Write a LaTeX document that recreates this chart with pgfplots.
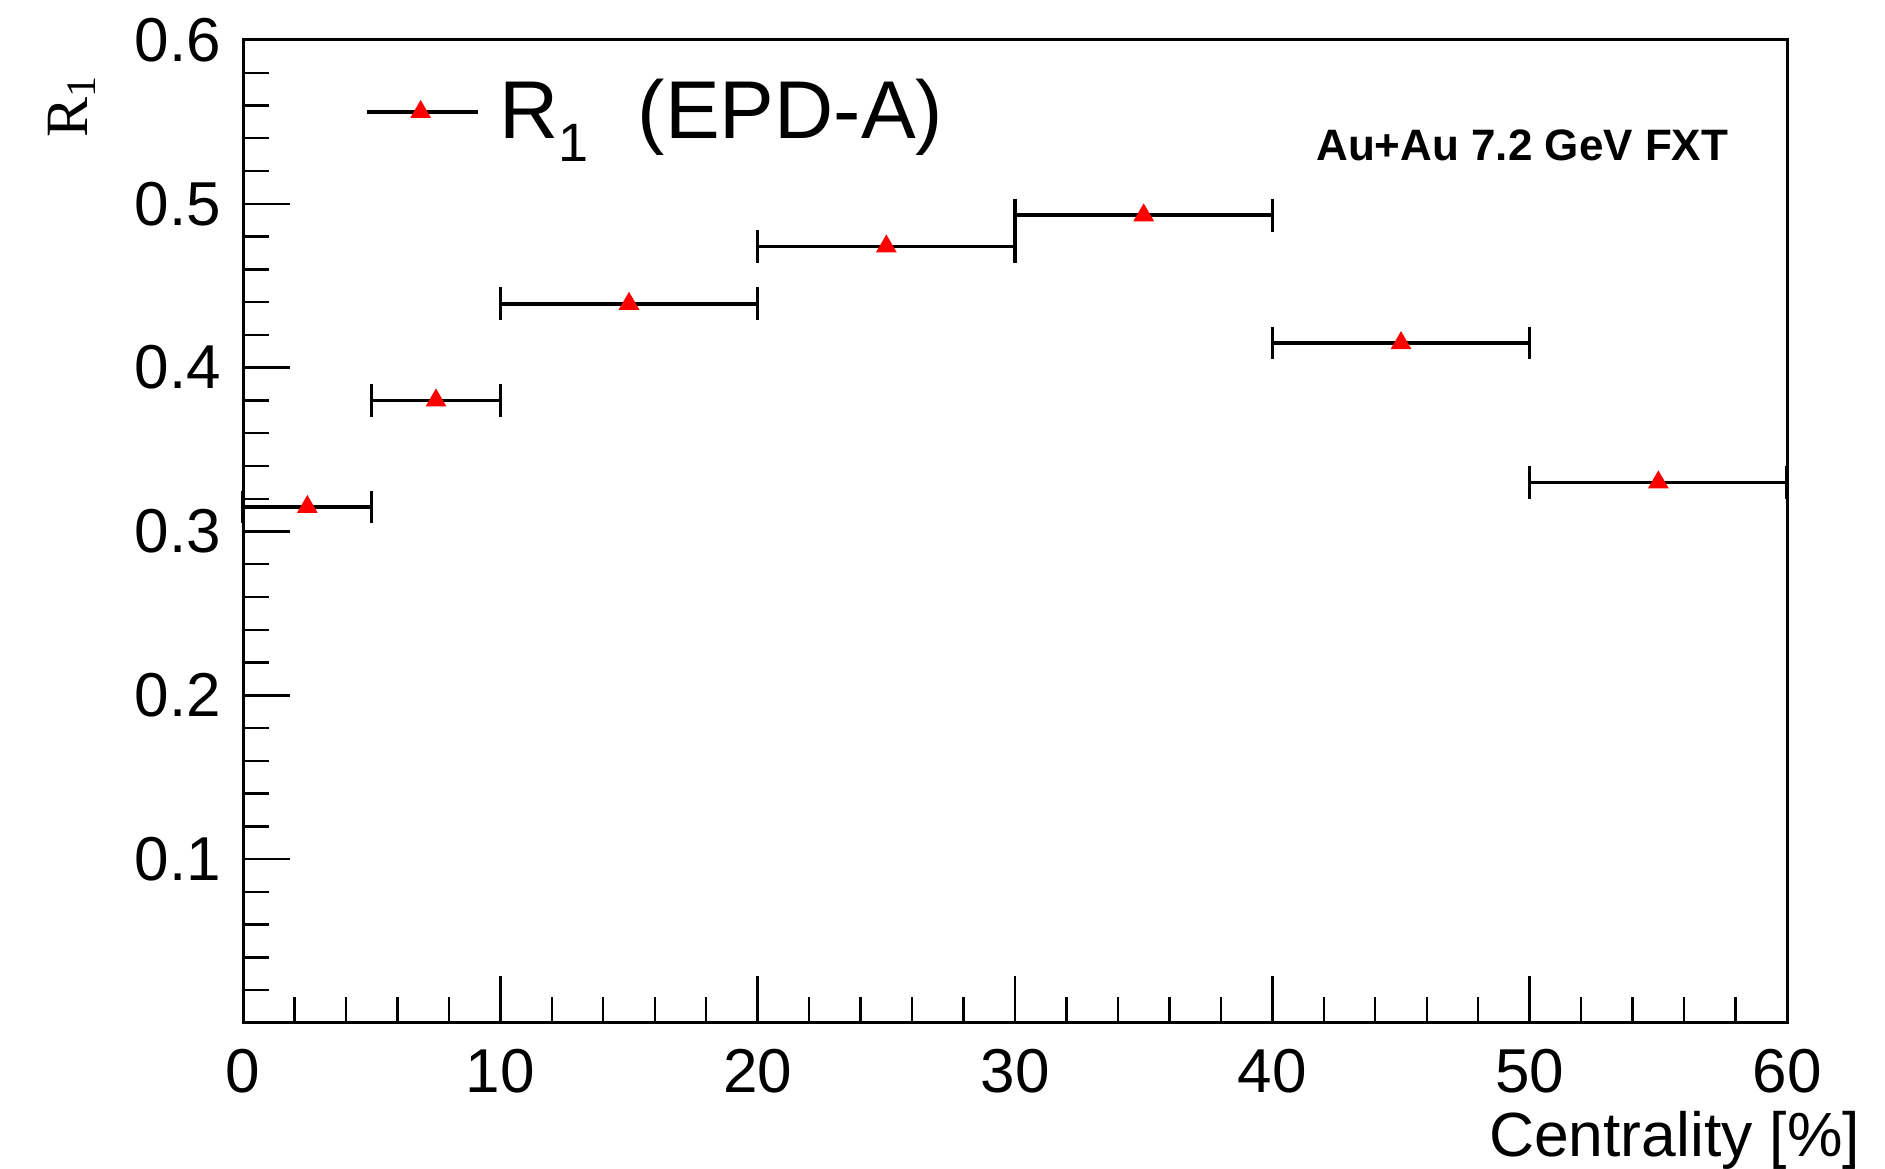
\documentclass[border=0pt]{standalone}
\usepackage{fontspec}
\setmainfont{Liberation Sans}
\newfontfamily\seriffont{Liberation Serif}
\usepackage{pgfplots}
\pgfplotsset{compat=1.18}

\begin{document}
\begin{tikzpicture}
\begin{axis}[
  name=ax,
  width=386pt, height=245.75pt, scale only axis,
  xmin=0, xmax=60, ymin=0, ymax=0.6,
  xtick={0,10,...,60},
  ytick={0,0.1,0.2,0.3,0.4,0.5,0.6},
  yticklabels={,0.1,0.2,0.3,0.4,0.5,0.6},
  minor x tick num=4, minor y tick num=4,
  tick pos=left, tick align=inside,
  major tick length=11.7pt, minor tick length=6.5pt,
  every tick/.style={black, line width=0.6pt},
  axis line style={line width=0.75pt},
  /pgf/number format/assume math mode=true,
  tick label style={font=\fontsize{15.5}{18}\selectfont},
  yticklabel style={xshift=-2pt},
  xticklabel style={yshift=-3pt},
  xlabel={Centrality [\%]},
  xlabel style={at={(rel axis cs:1,0)}, anchor=base east, xshift=18.5pt, yshift=-33.25pt, font=\fontsize{15.6}{18}\selectfont, inner sep=0pt},
  clip=false,
  legend style={draw=none, fill=none, inner sep=0pt, at={(axis description cs:0.0784,0.9268)}, anchor=west, font=\fontsize{20.5}{25}\selectfont, nodes={inner sep=0pt}},
  legend image code/.code={
    \draw[black, line width=0.9pt] (0pt,0pt) -- (27.75pt,0pt);
    \draw[red, fill=red, mark=triangle*, mark size=2.6pt, mark options={red, fill=red}] plot coordinates {(13.5pt,0pt)};
  },
]
\addplot[only marks, mark=triangle*, mark size=2.6pt, mark options={red, fill=red, draw=red},
  error bars/.cd, x dir=both, x explicit,
  error mark=none,
  error bar style={black, line width=0.9pt}]
  coordinates {
    (2.5,0.315) +- (2.5,0)
    (7.5,0.380) +- (2.5,0)
    (15,0.439) +- (5,0)
    (25,0.474) +- (5,0)
    (35,0.493) +- (5,0)
    (45,0.415) +- (5,0)
    (55,0.330) +- (5,0)
  };
\addlegendentry{\hspace{5pt}R\raisebox{-5.8pt}{\fontsize{13.5}{15}\selectfont 1}\hspace{0.6em}(EPD-A)}
% bin-edge caps of the horizontal error bars
\addplot[forget plot, only marks, mark=|, mark size=4.1pt, mark options={black, line width=0.9pt}]
  coordinates {
    (0,0.315) (5,0.315)
    (5,0.380) (10,0.380)
    (10,0.439) (20,0.439)
    (20,0.474) (30,0.474)
    (30,0.493) (40,0.493)
    (40,0.415) (50,0.415)
    (50,0.330) (60,0.330)
  };
\node[anchor=east, font=\fontsize{11}{13}\selectfont\bfseries, inner sep=0pt] at ([xshift=-14.5pt, yshift=-26.4pt]rel axis cs:1,1) {Au+Au 7.2 GeV FXT};
\node[rotate=90, anchor=center, font=\seriffont\fontsize{15}{17}\selectfont, inner sep=0pt] at ([xshift=-42.75pt, yshift=-16.5pt]rel axis cs:0,1) {R\textsubscript{1}};
\end{axis}
\path[use as bounding box] ([shift={(-60.75pt,-35.5pt)}]ax.south west) rectangle ([shift={(24.5pt,10pt)}]ax.north east);
\end{tikzpicture}
\end{document}
